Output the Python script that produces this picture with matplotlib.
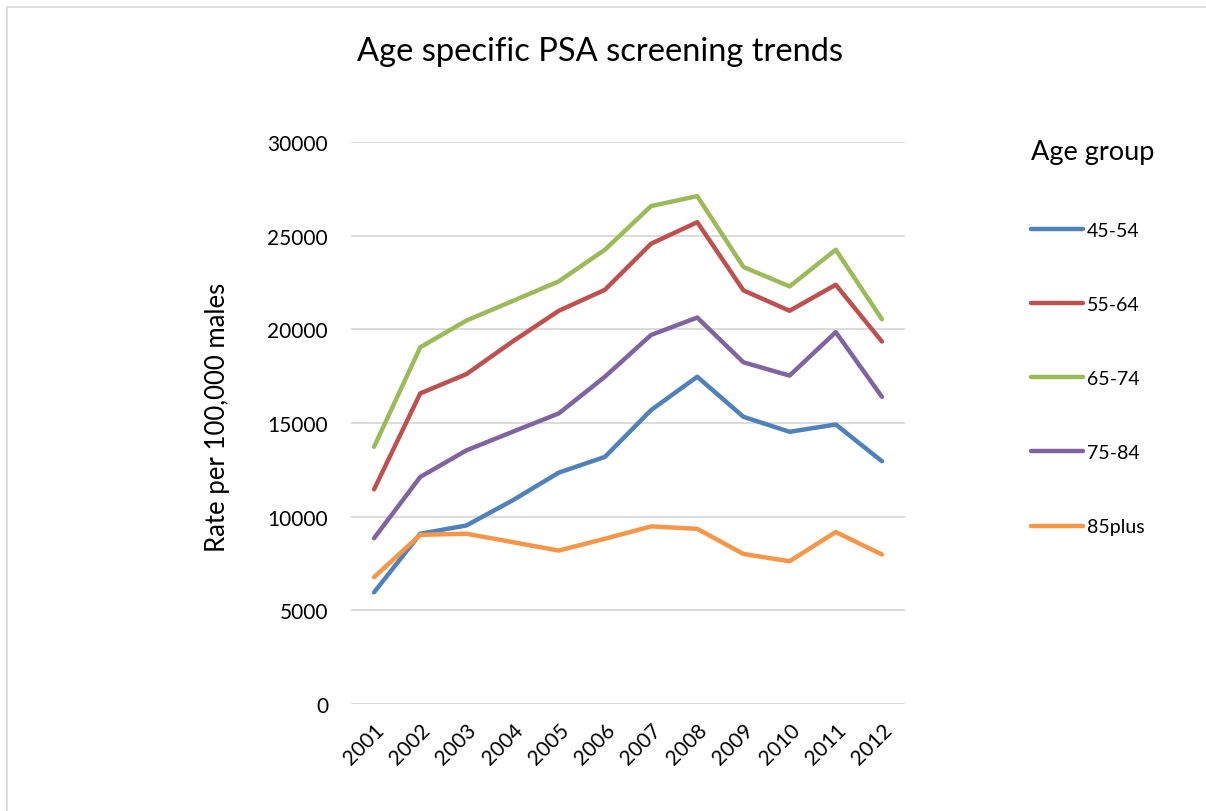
import numpy as np
import matplotlib
matplotlib.use('Agg')
import matplotlib.pyplot as plt
from matplotlib.lines import Line2D

plt.rcParams['font.family'] = ['Lato', 'DejaVu Sans']

years = ['2001', '2002', '2003', '2004', '2005', '2006',
         '2007', '2008', '2009', '2010', '2011', '2012']

age_45_54 = [5960, 9090, 9530, 10870, 12350, 13190, 15690, 17470, 15330, 14530, 14920, 12960]
age_55_64 = [11460, 16580, 17610, 19350, 20990, 22110, 24570, 25720, 22080, 20990, 22380, 19350]
age_65_74 = [13730, 19040, 20470, 21510, 22560, 24250, 26580, 27110, 23330, 22290, 24250, 20540]
age_75_84 = [8850, 12120, 13540, 14530, 15510, 17470, 19700, 20630, 18240, 17530, 19850, 16400]
age_85plus = [6770, 9030, 9090, 8640, 8190, 8820, 9480, 9350, 8010, 7620, 9180, 7980]

series = [('45-54', age_45_54, '#4F81BD'),
          ('55-64', age_55_64, '#C0504D'),
          ('65-74', age_65_74, '#9BBB59'),
          ('75-84', age_75_84, '#8064A2'),
          ('85plus', age_85plus, '#F79646')]

W, H = 1206, 812
fig = plt.figure(figsize=(W / 100, H / 100), dpi=100)
ax = fig.add_axes([351/W, 1 - 705/H, 554/W, 562/H])

# chart border (top and left edges show in the export)
fig.lines.append(Line2D([7/W, 7/W, 1], [0, 1 - 8/H, 1 - 8/H], transform=fig.transFigure,
                        color='#D9D9D9', linewidth=1.2))

x = np.arange(len(years))
for name, vals, col in series:
    ax.plot(x, vals, color=col, linewidth=3.2, label=name,
            solid_capstyle='round', solid_joinstyle='round')

ax.set_xlim(-0.5, len(years) - 0.5)
ax.set_ylim(0, 30000)
ax.set_yticks(np.arange(0, 30001, 5000))
ax.set_xticks(x)
ax.set_xticklabels(years, rotation=45, ha='right', rotation_mode='anchor', fontsize=15)
ax.tick_params(axis='y', labelsize=15, length=0, pad=16.5)
ax.tick_params(axis='x', length=0, pad=11)
ax.grid(axis='y', color='#D9D9D9', linewidth=1.3)
ax.set_axisbelow(True)
for s in ax.spines.values():
    s.set_visible(False)

fig.text(218/W, 1 - 417/H, 'Rate per 100,000 males', fontsize=18.5, rotation=90,
         ha='center', va='center')
fig.text(600/W, 1 - 52/H, 'Age specific PSA screening trends', fontsize=23.5,
         ha='center', va='center')

leg = fig.legend(title='Age group', loc='upper left', bbox_to_anchor=(1014/W, 1 - 123/H),
                 frameon=False, fontsize=14, title_fontsize=19.5, handlelength=2.65,
                 handletextpad=0.2, labelspacing=2.94)
leg._legend_box.align = 'left'

fig.savefig('out.png', dpi=100, facecolor='white')
